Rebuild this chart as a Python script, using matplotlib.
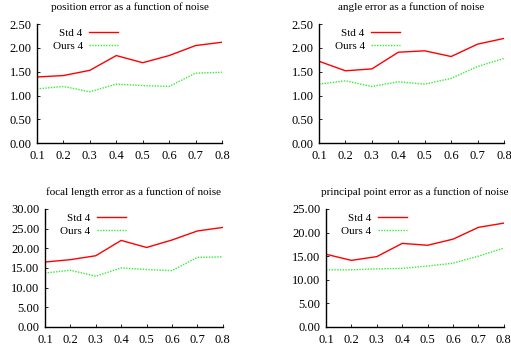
import matplotlib
matplotlib.use("Agg")
import matplotlib.pyplot as plt

plt.rcParams['font.family'] = ['Liberation Serif', 'DejaVu Serif']

noise = [0.1, 0.2, 0.3, 0.4, 0.5, 0.6, 0.7, 0.8]

titles = ["position error as a function of noise",
          "angle error as a function of noise",
          "focal length error as a function of noise",
          "principal point error as a function of noise"]

std_pos = [1.39, 1.42, 1.53, 1.84, 1.69, 1.84, 2.05, 2.12]
ours_pos = [1.14, 1.19, 1.08, 1.24, 1.21, 1.19, 1.47, 1.49]
std_ang = [1.72, 1.52, 1.56, 1.91, 1.94, 1.82, 2.08, 2.20]
ours_ang = [1.24, 1.31, 1.19, 1.29, 1.24, 1.36, 1.61, 1.78]
std_foc = [16.5, 17.1, 18.1, 22.0, 20.2, 22.1, 24.4, 25.3]
ours_foc = [13.7, 14.4, 12.9, 15.0, 14.6, 14.3, 17.7, 17.8]
std_pp = [15.4, 14.1, 14.9, 17.7, 17.3, 18.6, 21.1, 22.0]
ours_pp = [12.1, 12.1, 12.3, 12.4, 12.9, 13.5, 15.0, 16.7]

yticks_small = [0.0, 0.5, 1.0, 1.5, 2.0, 2.5]
yticks_foc = [0, 5, 10, 15, 20, 25, 30]
yticks_pp = [0, 5, 10, 15, 20, 25]

panels = [
    (std_pos, ours_pos, yticks_small),
    (std_ang, ours_ang, yticks_small),
    (std_foc, ours_foc, yticks_foc),
    (std_pp, ours_pp, yticks_pp),
]

# axes boxes in figure fractions (left, bottom, width, height)
boxes = [
    (0.0724, 0.591, 0.362, 0.34),
    (0.6243, 0.591, 0.362, 0.34),
    (0.088, 0.066, 0.348, 0.337),
    (0.638, 0.066, 0.348, 0.337),
]

fig = plt.figure(figsize=(5.11, 3.5), dpi=100)

for (std, ours, yt), box, title in zip(panels, boxes, titles):
    ax = fig.add_axes(box)
    ax.plot(noise, std, color='#ff0000', lw=1.0, label='Std 4')
    ax.plot(noise, ours, color='#33ee33', lw=1.0, linestyle=(0, (1, 1)), label='Ours 4')
    ax.set_xlim(0.1, 0.8)
    ax.set_ylim(yt[0], yt[-1])
    ax.set_xticks(noise)
    ax.set_xticklabels(["%.1f" % v for v in noise])
    ax.set_yticks(yt)
    ax.set_yticklabels(["%.2f" % v for v in yt])
    for s in ['top', 'right']:
        ax.spines[s].set_visible(False)
    for s in ['left', 'bottom']:
        ax.spines[s].set_linewidth(1.0)
    ax.tick_params(direction='in', length=2, width=0.6, labelsize=9)
    ax.tick_params(axis='x', pad=5)
    ax.tick_params(axis='y', pad=4)
    ax.set_title(title, fontsize=8, pad=10)
    ax.legend(loc='upper left', bbox_to_anchor=(0.06, 1.0), frameon=False,
              markerfirst=False, fontsize=8, handlelength=2.6, labelspacing=0.25,
              handletextpad=0.6, borderaxespad=0)

fig.savefig("out.png", dpi=100)
